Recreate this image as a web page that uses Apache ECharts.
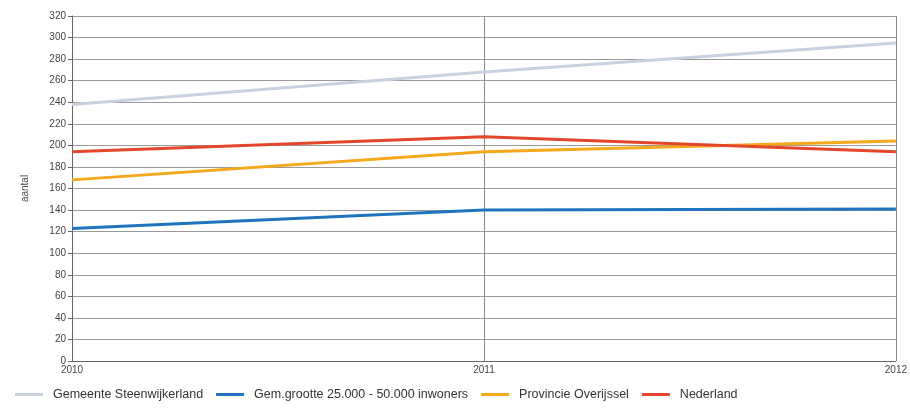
<!DOCTYPE html>
<html><head><meta charset="utf-8">
<script src="https://cdn.jsdelivr.net/npm/echarts@6/dist/echarts.min.js"></script>
<style>html,body{margin:0;padding:0;background:#fff}#c{width:910px;height:410px}</style>
</head><body><div id="c"></div>
<script>
const categories = ['2010', '2011', '2012'];
const seriesNames = ['Gemeente Steenwijkerland', 'Gem.grootte 25.000 - 50.000 inwoners', 'Provincie Overijssel', 'Nederland'];
const steenwijkerland = [238, 268, 295];
const gemGrootte = [123, 140, 141];
const overijssel = [168, 194, 204];
const nederland = [194, 208, 194];
const colors = ['#c9d1e1', '#1f74bd', '#f5a81c', '#e2472b'];
const values = [steenwijkerland, gemGrootte, overijssel, nederland];

const chart = echarts.init(document.getElementById('c'));
chart.setOption({
  animation: false,
  color: colors,
  textStyle: { fontFamily: 'Liberation Sans, Arial, sans-serif' },
  grid: { left: 72, right: 12, top: 16, bottom: 49 },
  legend: {
    bottom: 4, left: 10, itemWidth: 28, itemHeight: 3, itemGap: 13,
    icon: 'rect',
    textStyle: { fontSize: 12.5, color: '#333', padding: [0, 0, 0, 5] },
    data: seriesNames
  },
  xAxis: {
    type: 'category', data: categories, boundaryGap: false,
    axisLine: { lineStyle: { color: '#666' } },
    axisTick: { show: false },
    axisLabel: { fontSize: 10, color: '#444', margin: 4 },
    splitLine: { show: true, lineStyle: { color: '#888', width: 1 } }
  },
  yAxis: {
    type: 'value', min: 0, max: 320, interval: 20,
    name: 'aantal', nameLocation: 'middle', nameGap: 42, nameRotate: 90,
    nameTextStyle: { fontSize: 10, color: '#444' },
    axisLine: { show: true, lineStyle: { color: '#666' } },
    axisTick: { show: true, length: 4, lineStyle: { color: '#666' } },
    axisLabel: { fontSize: 10, color: '#444', margin: 6 },
    splitLine: { lineStyle: { color: '#999', width: 1 } }
  },
  series: values.map((v, i) => ({
    name: seriesNames[i], type: 'line', data: v,
    symbol: 'none', lineStyle: { width: 3, color: colors[i] }
  }))
});
</script></body></html>
